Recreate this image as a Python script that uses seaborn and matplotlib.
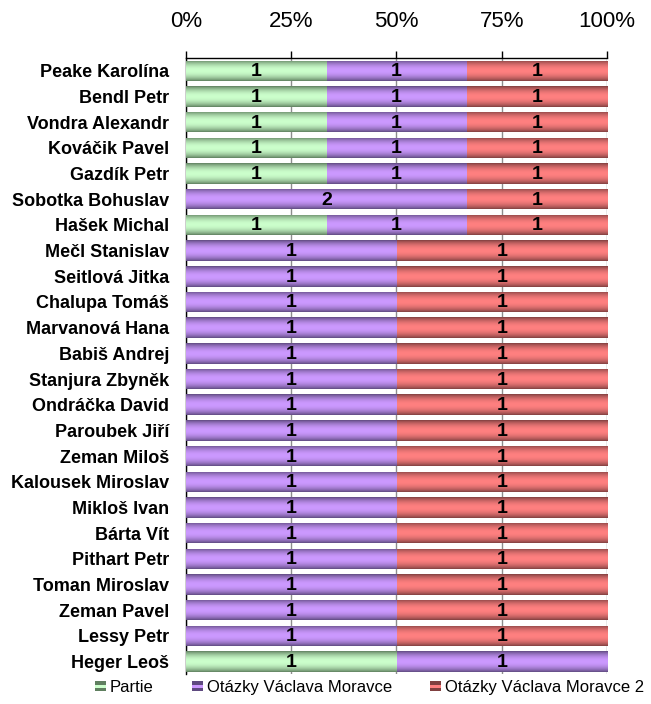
import numpy as np
import pandas as pd
import seaborn as sns
import matplotlib.pyplot as plt
from matplotlib.colors import LinearSegmentedColormap
from matplotlib.legend_handler import HandlerBase
from matplotlib.patches import Rectangle

names = ['Peake Karolína', 'Bendl Petr', 'Vondra Alexandr', 'Kováčik Pavel', 'Gazdík Petr',
         'Sobotka Bohuslav', 'Hašek Michal', 'Mečl Stanislav', 'Seitlová Jitka', 'Chalupa Tomáš',
         'Marvanová Hana', 'Babiš Andrej', 'Stanjura Zbyněk', 'Ondráčka David', 'Paroubek Jiří',
         'Zeman Miloš', 'Kalousek Miroslav', 'Mikloš Ivan', 'Bárta Vít', 'Pithart Petr',
         'Toman Miroslav', 'Zeman Pavel', 'Lessy Petr', 'Heger Leoš']
partie = [1, 1, 1, 1, 1, 0, 1, 0, 0, 0, 0, 0, 0, 0, 0, 0, 0, 0, 0, 0, 0, 0, 0, 1]
ovm = [1, 1, 1, 1, 1, 2, 1, 1, 1, 1, 1, 1, 1, 1, 1, 1, 1, 1, 1, 1, 1, 1, 1, 1]
ovm2 = [1, 1, 1, 1, 1, 1, 1, 1, 1, 1, 1, 1, 1, 1, 1, 1, 1, 1, 1, 1, 1, 1, 1, 0]
series = ['Partie', 'Otázky Václava Moravce', 'Otázky Václava Moravce 2']

# edge (dark) and centre (light) colour of each series
edge_colors = ['#5f7f5f', '#5f4a80', '#804040']
center_colors = ['#ccffcc', '#cc99ff', '#ff8080']

df = pd.DataFrame({'name': names, 'Partie': partie,
                   'Otázky Václava Moravce': ovm, 'Otázky Václava Moravce 2': ovm2})
total = df[series].sum(axis=1)
pct = df[series].div(total, axis=0) * 100
cum = pct.cumsum(axis=1)

sns.set_style('white')
plt.rcParams['font.family'] = ['Liberation Sans', 'DejaVu Sans']
plt.rcParams['text.color'] = 'black'
plt.rcParams['xtick.color'] = 'black'
plt.rcParams['ytick.color'] = 'black'

fig = plt.figure(figsize=(6.51, 7.04), dpi=100)
ax = fig.add_axes([0.2857, 0.042, 0.6467, 0.8757])

# stacked bars by overlaying cumulative sums, widest first
for i in [2, 1, 0]:
    sns.barplot(x=cum[series[i]], y=df['name'], orient='h', color=center_colors[i],
                width=0.8, linewidth=0, ax=ax)

# cylinder-like vertical shading clipped to each bar
t = np.linspace(0, 1, 64)
profile = np.sin(np.pi * t) ** 0.8
grad = profile[:, None]
n = len(names)
for k, i in enumerate([2, 1, 0]):
    cmap = LinearSegmentedColormap.from_list('c%d' % i, [edge_colors[i], center_colors[i]])
    for p in ax.patches[k * n:(k + 1) * n]:
        w = p.get_width()
        p.set_facecolor('none')
        if w <= 0:
            continue
        y0 = p.get_y()
        h = p.get_height()
        im = ax.imshow(grad, cmap=cmap, vmin=0, vmax=1, aspect='auto',
                       extent=[0, w, y0 + h, y0], zorder=2 + k, interpolation='bilinear')
        im.set_clip_path(p)

# value labels centred in each segment
for i, s in enumerate(series):
    left = cum[s] - pct[s]
    for j in range(n):
        v = df[s][j]
        if v > 0:
            ax.text(left[j] + pct[s][j] / 2, j + 0.04, str(v), ha='center', va='center',
                    fontsize=14, fontweight='bold', color='black', zorder=10)

ax.set_xlim(0, 100)
ax.set_ylim(n - 0.5, -0.5)
ax.xaxis.tick_top()
ax.set_xticks([0, 25, 50, 75, 100])
ax.set_xticklabels(['0%', '25%', '50%', '75%', '100%'], fontsize=16)
ax.tick_params(axis='x', direction='out', length=5, width=1, color='black', pad=14)
ax.xaxis.grid(True, color='#8c8c8c', linewidth=1)
ax.set_axisbelow(True)
ax.set_yticks(range(n))
ax.set_yticklabels(names, fontsize=13, fontweight='bold')
ax.tick_params(axis='y', which='major', length=0, pad=12)
ax.set_yticks(np.arange(-0.5, n), minor=True)
ax.tick_params(axis='y', which='minor', direction='out', length=5, width=1, color='black')
ax.set_xlabel('')
ax.set_ylabel('')
for side in ['right', 'bottom']:
    ax.spines[side].set_visible(False)
for side in ['top', 'left']:
    ax.spines[side].set_color('black')
    ax.spines[side].set_linewidth(1)


class StripeHandler(HandlerBase):
    def create_artists(self, legend, orig_handle, xdescent, ydescent, width, height, fontsize, trans):
        e, c = orig_handle
        arts = []
        for k, col in enumerate([e, c, e]):
            r = Rectangle((-xdescent, -ydescent + k * height / 3), width, height / 3,
                          facecolor=col, edgecolor='none', transform=trans)
            arts.append(r)
        return arts


handles = [(edge_colors[i], center_colors[i]) for i in range(3)]
fig.legend(handles, series, handler_map={tuple: StripeHandler()}, loc='center',
           bbox_to_anchor=(0.568, 0.023), ncol=3, frameon=False, fontsize=12,
           handlelength=0.65, handleheight=0.55, handletextpad=0.25, columnspacing=2.3)

fig.savefig('out.png', dpi=100)
